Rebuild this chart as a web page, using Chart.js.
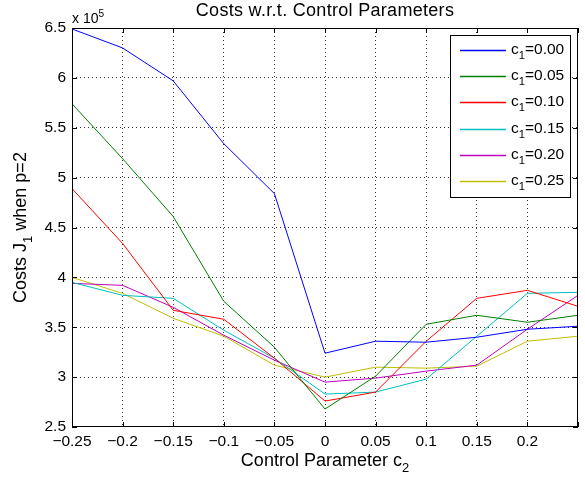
<!DOCTYPE html>
<html>
<head>
<meta charset="utf-8">
<script src="https://cdn.jsdelivr.net/npm/chart.js@4.4.1/dist/chart.umd.min.js"></script>
<style>
  html, body { margin: 0; padding: 0; background: #fff; }
  #wrap { width: 585px; height: 481px; }
</style>
</head>
<body>
<div id="wrap"><canvas id="costChart" width="585" height="481"></canvas></div>
<script>
// control parameter c2 (x axis)
const c2Values = [-0.25, -0.2, -0.15, -0.1, -0.05, 0, 0.05, 0.1, 0.15, 0.2, 0.25];
// c1 series labels
const c1Labels = ['0.00', '0.05', '0.10', '0.15', '0.20', '0.25'];
// costs J1 (x 10^5)
const costC100 = [6.49, 6.30, 5.97, 5.34, 4.84, 3.24, 3.36, 3.35, 3.40, 3.48, 3.51];
const costC105 = [5.74, 5.19, 4.61, 3.76, 3.30, 2.68, 3.01, 3.53, 3.62, 3.55, 3.62];
const costC110 = [4.89, 4.34, 3.67, 3.58, 3.19, 2.76, 2.85, 3.36, 3.79, 3.87, 3.71];
const costC115 = [3.95, 3.82, 3.79, 3.47, 3.19, 2.83, 2.85, 2.98, 3.41, 3.84, 3.85];
const costC120 = [3.94, 3.92, 3.70, 3.42, 3.17, 2.95, 2.99, 3.06, 3.12, 3.48, 3.82];
const costC125 = [4.00, 3.84, 3.59, 3.41, 3.12, 3.00, 3.10, 3.09, 3.11, 3.36, 3.41];
const yTicks = [2.5, 3, 3.5, 4, 4.5, 5, 5.5, 6, 6.5];

const colors = ['#0000ff', '#008000', '#ff0000', '#00bfbf', '#bf00bf', '#bfbf00'];
const allCosts = [costC100, costC105, costC110, costC115, costC120, costC125];
const FONT = '"Liberation Sans", Arial, Helvetica, sans-serif';

const datasets = allCosts.map((vals, i) => ({
  label: 'c1=' + c1Labels[i],
  data: c2Values.map((x, k) => ({ x: x, y: vals[k] })),
  borderColor: colors[i],
  backgroundColor: colors[i],
  borderWidth: 1,
  pointRadius: 0,
  tension: 0,
  fill: false
}));

// text with subscript / superscript pieces: [[text, mode], ...]
function richText(ctx, parts, x, y, size, align) {
  let total = 0;
  parts.forEach(p => {
    ctx.font = (p[1] ? size * 0.72 : size) + 'px ' + FONT;
    total += ctx.measureText(p[0]).width;
  });
  let cx = align === 'center' ? x - total / 2 : x;
  parts.forEach(p => {
    const s = p[1] ? size * 0.72 : size;
    ctx.font = s + 'px ' + FONT;
    let dy = 0;
    if (p[1] === 'sub') dy = size * 0.36;
    if (p[1] === 'sup') dy = -size * 0.45;
    ctx.fillText(p[0], cx, y + dy);
    cx += ctx.measureText(p[0]).width;
  });
}

const matlabDecor = {
  id: 'matlabDecor',
  afterDraw(chart) {
    const ctx = chart.ctx;
    const a = chart.chartArea;
    const xs = chart.scales.x, ys = chart.scales.y;
    ctx.save();
    // box
    ctx.strokeStyle = '#000';
    ctx.lineWidth = 1;
    ctx.strokeRect(a.left + 0.5, a.top + 0.5, a.right - a.left - 1, a.bottom - a.top - 1);
    // inward ticks
    ctx.beginPath();
    xs.ticks.forEach(t => {
      const px = Math.round(xs.getPixelForValue(t.value)) + 0.5;
      ctx.moveTo(px, a.bottom); ctx.lineTo(px, a.bottom - 5);
      ctx.moveTo(px, a.top); ctx.lineTo(px, a.top + 5);
    });
    ys.ticks.forEach(t => {
      const py = Math.round(ys.getPixelForValue(t.value)) + 0.5;
      ctx.moveTo(a.left, py); ctx.lineTo(a.left + 5, py);
      ctx.moveTo(a.right, py); ctx.lineTo(a.right - 5, py);
    });
    ctx.stroke();

    ctx.fillStyle = '#000';
    ctx.textBaseline = 'alphabetic';
    // title
    ctx.font = '18px ' + FONT;
    ctx.letterSpacing = '0.3px';
    ctx.textAlign = 'center';
    ctx.fillText('Costs w.r.t. Control Parameters', (a.left + a.right) / 2, 16);
    ctx.letterSpacing = '0px';
    ctx.textAlign = 'left';
    // exponent
    richText(ctx, [['x 10', null], ['5', 'sup']], a.left, 23, 14, 'left');
    // x axis title
    richText(ctx, [['Control Parameter c', null], ['2', 'sub']], (a.left + a.right) / 2, 466, 18, 'center');
    // y axis title
    ctx.save();
    ctx.translate(26, (a.top + a.bottom) / 2);
    ctx.rotate(-Math.PI / 2);
    richText(ctx, [['Costs J', null], ['1', 'sub'], [' when p=2', null]], 0, 0, 18, 'center');
    ctx.restore();

    // legend
    const lx = 450, ly = 35, lw = 120, lh = 162;
    ctx.fillStyle = '#fff';
    ctx.fillRect(lx, ly, lw, lh);
    ctx.strokeStyle = '#000';
    ctx.lineWidth = 1;
    ctx.strokeRect(lx + 0.5, ly + 0.5, lw, lh);
    ctx.textBaseline = 'middle';
    chart.data.datasets.forEach((ds, i) => {
      const y = Math.round(50 + i * 26.2);
      ctx.strokeStyle = ds.borderColor;
      ctx.lineWidth = 1.5;
      ctx.beginPath();
      ctx.moveTo(460, y + 0.5);
      ctx.lineTo(506, y + 0.5);
      ctx.stroke();
      ctx.fillStyle = '#000';
      richText(ctx, [['c', null], ['1', 'sub'], ['=' + c1Labels[i], null]], 511, y, 15.5, 'left');
    });
    ctx.restore();
  }
};

function fmtX(v) {
  if (Math.abs(v - 0.25) < 1e-9) return '';
  const r = parseFloat(v.toFixed(2));
  return r < 0 ? '\u2212' + String(-r) : String(r);
}

new Chart(document.getElementById('costChart').getContext('2d'), {
  type: 'line',
  data: { datasets: datasets },
  options: {
    responsive: false,
    animation: false,
    layout: { padding: { top: 28, right: 7, left: 0, bottom: 0 } },
    plugins: {
      legend: { display: false },
      title: { display: false },
      tooltip: { enabled: false }
    },
    scales: {
      x: {
        type: 'linear',
        min: -0.25,
        max: 0.25,
        afterBuildTicks: (scale) => {
          scale.ticks = c2Values.map(v => ({ value: v }));
        },
        afterFit: (scale) => { scale.height = 54; },
        border: { display: false, dash: [1, 3] },
        grid: {
          color: (c) => (c.tick && (Math.abs(c.tick.value) > 0.2499) ? 'rgba(0,0,0,0)' : '#333'),
          lineWidth: 1,
          drawTicks: false
        },
        ticks: {
          callback: fmtX,
          color: '#000',
          padding: 5,
          maxRotation: 0,
          autoSkip: false,
          font: { family: FONT, size: 15.5 }
        }
      },
      y: {
        min: 2.5,
        max: 6.5,
        afterBuildTicks: (scale) => {
          scale.ticks = yTicks.map(v => ({ value: v }));
        },
        afterFit: (scale) => { scale.width = 72; },
        border: { display: false, dash: [1, 3] },
        grid: {
          color: (c) => (c.tick && (c.tick.value < 2.51 || c.tick.value > 6.49) ? 'rgba(0,0,0,0)' : '#333'),
          lineWidth: 1,
          drawTicks: false
        },
        ticks: {
          callback: (v) => String(v),
          color: '#000',
          padding: 6,
          autoSkip: false,
          font: { family: FONT, size: 15.5 }
        }
      }
    }
  },
  plugins: [matlabDecor]
});
</script>
</body>
</html>
